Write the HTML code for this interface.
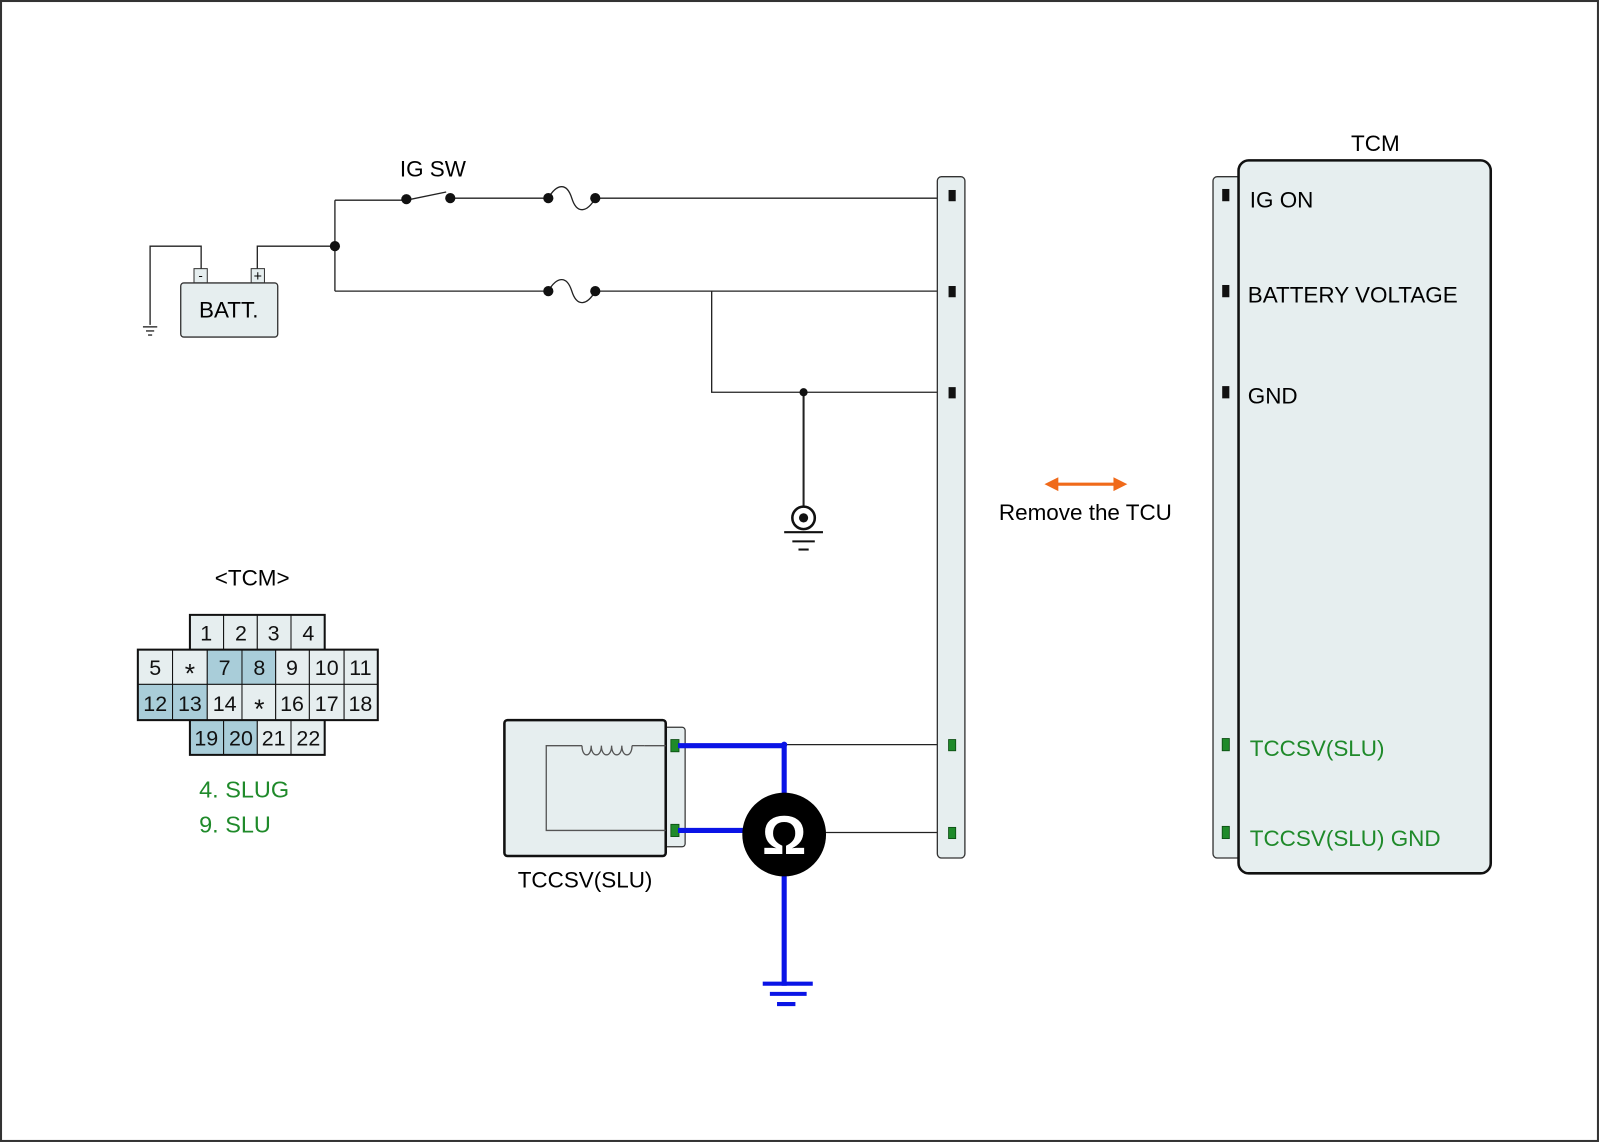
<!DOCTYPE html>
<html><head><meta charset="utf-8"><style>html,body{margin:0;padding:0;background:#fff}svg{display:block}text{font-family:"Liberation Sans",sans-serif}</style></head><body>
<svg width="1600" height="1143" viewBox="0 0 1567 1119" preserveAspectRatio="none" xmlns="http://www.w3.org/2000/svg">
<rect x="1" y="1" width="1564" height="1116" fill="#fff" stroke="#333" stroke-width="2"/>
<g stroke="#222" stroke-width="1.3" fill="none">
<polyline points="197,263 197,241 147,241 147,318"/>
<polyline points="252,263 252,241 328,241"/>
<line x1="328" y1="196" x2="328" y2="285"/>
<line x1="328" y1="196" x2="398" y2="196"/>
<line x1="398" y1="196" x2="437" y2="188"/>
<line x1="441" y1="194" x2="537" y2="194"/>
<path d="M537,194 C545,180 555,178 560,194 C565,210 575,208 583,194"/>
<line x1="583" y1="194" x2="930" y2="194"/>
<line x1="328" y1="285" x2="537" y2="285"/>
<path d="M537,285 C545,271 555,269 560,285 C565,301 575,299 583,285"/>
<line x1="583" y1="285" x2="930" y2="285"/>
<polyline points="697,285 697,384 930,384"/>
<line x1="787" y1="384" x2="787" y2="497" stroke-width="2"/>
<line x1="768" y1="729" x2="930" y2="729"/>
<line x1="808" y1="815" x2="930" y2="815"/>
<line x1="140" y1="320" x2="154" y2="320"/><line x1="143" y1="324" x2="151" y2="324"/><line x1="145" y1="328" x2="149" y2="328"/>
</g>
<g fill="#111">
<circle cx="328" cy="241" r="5"/><circle cx="398" cy="195" r="5"/><circle cx="441" cy="194" r="5"/>
<circle cx="537" cy="194" r="5"/><circle cx="583" cy="194" r="5"/><circle cx="537" cy="285" r="5"/><circle cx="583" cy="285" r="5"/>
<circle cx="787" cy="384" r="4"/>
</g>
<circle cx="787" cy="507" r="11" fill="#fff" stroke="#111" stroke-width="2.5"/>
<circle cx="787" cy="507" r="4.5" fill="#111"/>
<g stroke="#111" stroke-width="2"><line x1="768" y1="521" x2="806" y2="521"/><line x1="776" y1="530" x2="798" y2="530"/><line x1="782" y1="538" x2="792" y2="538"/></g>
<rect x="190" y="263" width="13" height="14" fill="#e6eeef" stroke="#333" stroke-width="1"/>
<rect x="246" y="263" width="13" height="14" fill="#e6eeef" stroke="#333" stroke-width="1"/>
<text x="196.5" y="274" font-size="13" text-anchor="middle">-</text>
<text x="252.5" y="275" font-size="14" text-anchor="middle">+</text>
<rect x="177" y="277" width="95" height="53" rx="3" fill="#e6eeef" stroke="#333" stroke-width="1.3"/>
<text x="224" y="311" font-size="22" text-anchor="middle">BATT.</text>
<text x="424" y="173" font-size="22" text-anchor="middle">IG SW</text>
<rect x="918" y="173" width="27" height="667" rx="4" fill="#e6eeef" stroke="#333" stroke-width="1.3"/>
<g fill="#111"><rect x="929" y="186" width="7" height="11"/><rect x="929" y="280" width="7" height="11"/><rect x="929" y="379" width="7" height="11"/></g>
<g fill="#1f8a2a" stroke="#0a4a10" stroke-width="0.8"><rect x="929" y="724" width="7" height="11"/><rect x="929" y="810" width="7" height="11"/></g>
<g fill="#f06a1a" stroke="#f06a1a"><line x1="1033" y1="474" x2="1094" y2="474" stroke-width="3"/><polygon points="1024,474 1036,468 1036,480"/><polygon points="1103,474 1091,468 1091,480"/></g>
<text x="1063" y="509" font-size="22" text-anchor="middle">Remove the TCU</text>
<text x="1347" y="148" font-size="22" text-anchor="middle">TCM</text>
<rect x="1188" y="173" width="30" height="667" rx="4" fill="#e6eeef" stroke="#333" stroke-width="1.3"/>
<rect x="1213" y="157" width="247" height="698" rx="10" fill="#e6eeef" stroke="#111" stroke-width="2.5"/>
<g fill="#111"><rect x="1197" y="185" width="7" height="12"/><rect x="1197" y="279" width="7" height="12"/><rect x="1197" y="378" width="7" height="12"/></g>
<g fill="#1f8a2a" stroke="#0a4a10" stroke-width="0.8"><rect x="1197" y="723" width="7" height="12"/><rect x="1197" y="809" width="7" height="12"/></g>
<g font-size="22"><text x="1224" y="203">IG ON</text><text x="1222" y="296">BATTERY VOLTAGE</text><text x="1222" y="395">GND</text>
<text x="1224" y="740" fill="#1f8a2a">TCCSV(SLU)</text><text x="1224" y="828" fill="#1f8a2a">TCCSV(SLU) GND</text></g>
<rect x="648" y="712" width="23" height="117" rx="3" fill="#e6eeef" stroke="#333" stroke-width="1.2"/>
<rect x="494" y="705" width="158" height="133" rx="3" fill="#e6eeef" stroke="#111" stroke-width="2.5"/>
<path d="M652,730 L631,730 M619,730 C619,742 609,742 609,730 C609,742 599,742 599,730 C599,742 589,742 589,730 C589,742 579,742 579,730 C579,742 570,742 570,730 M570,730 L535,730 L535,813 L652,813" fill="none" stroke="#555" stroke-width="1.3"/>
<line x1="619" y1="730" x2="631" y2="730" stroke="#555" stroke-width="1.3"/>
<g fill="#1f8a2a" stroke="#0a4a10" stroke-width="0.8"><rect x="657" y="724" width="8" height="12"/><rect x="657" y="807" width="8" height="12"/></g>
<text x="573" y="869" font-size="22" text-anchor="middle">TCCSV(SLU)</text>
<g stroke="#0a14e6" stroke-width="5" fill="none">
<polyline points="664,730 768,730 768,790"/>
<line x1="664" y1="813" x2="730" y2="813"/>
<line x1="768" y1="850" x2="768" y2="965"/>
</g>
<g stroke="#0a14e6" stroke-width="4"><line x1="747" y1="963" x2="796" y2="963"/><line x1="754" y1="973" x2="790" y2="973"/><line x1="761" y1="983" x2="779" y2="983"/></g>
<circle cx="768" cy="729" r="3" fill="#0a14e6"/>
<circle cx="768" cy="817" r="41" fill="#000"/>
<text x="768" y="836" font-size="54" font-weight="bold" fill="#fff" text-anchor="middle">Ω</text>
<text x="247" y="573" font-size="22" text-anchor="middle">&lt;TCM&gt;</text>
<g stroke="#111" stroke-width="1">
<g fill="#e6eeef">
<rect x="186" y="602" width="33" height="34"/><rect x="219" y="602" width="33" height="34"/><rect x="252" y="602" width="33" height="34"/><rect x="285" y="602" width="33" height="34"/>
<rect x="135" y="636" width="34" height="34"/><rect x="169" y="636" width="34" height="34"/><rect x="203" y="636" width="34" height="34" fill="#a9cdd9"/><rect x="237" y="636" width="33" height="34" fill="#a9cdd9"/><rect x="270" y="636" width="33" height="34"/><rect x="303" y="636" width="34" height="34"/><rect x="337" y="636" width="33" height="34"/>
<rect x="135" y="670" width="34" height="35" fill="#a9cdd9"/><rect x="169" y="670" width="34" height="35" fill="#a9cdd9"/><rect x="203" y="670" width="34" height="35"/><rect x="237" y="670" width="33" height="35"/><rect x="270" y="670" width="33" height="35"/><rect x="303" y="670" width="34" height="35"/><rect x="337" y="670" width="33" height="35"/>
<rect x="186" y="705" width="33" height="34" fill="#a9cdd9"/><rect x="219" y="705" width="33" height="34" fill="#a9cdd9"/><rect x="252" y="705" width="33" height="34"/><rect x="285" y="705" width="33" height="34"/>
</g>
<rect x="135" y="636" width="235" height="69" fill="none" stroke-width="2"/>
<polyline points="186,636 186,602 318,602 318,636" fill="none" stroke-width="2"/>
<polyline points="186,705 186,739 318,739 318,705" fill="none" stroke-width="2"/>
</g>
<g font-size="21" text-anchor="middle" fill="#111">
<text x="202" y="627">1</text><text x="236" y="627">2</text><text x="268" y="627">3</text><text x="302" y="627">4</text>
<text x="152" y="661">5</text><text x="186" y="668" font-size="26">*</text><text x="220" y="661">7</text><text x="254" y="661">8</text><text x="286" y="661">9</text><text x="320" y="661">10</text><text x="353" y="661">11</text>
<text x="152" y="696">12</text><text x="186" y="696">13</text><text x="220" y="696">14</text><text x="254" y="703" font-size="26">*</text><text x="286" y="696">16</text><text x="320" y="696">17</text><text x="353" y="696">18</text>
<text x="202" y="730">19</text><text x="236" y="730">20</text><text x="268" y="730">21</text><text x="302" y="730">22</text>
</g>
<text x="195" y="781" font-size="23" fill="#1f8a2a">4. SLUG</text>
<text x="195" y="815" font-size="23" fill="#1f8a2a">9. SLU</text>
</svg>
</body></html>
